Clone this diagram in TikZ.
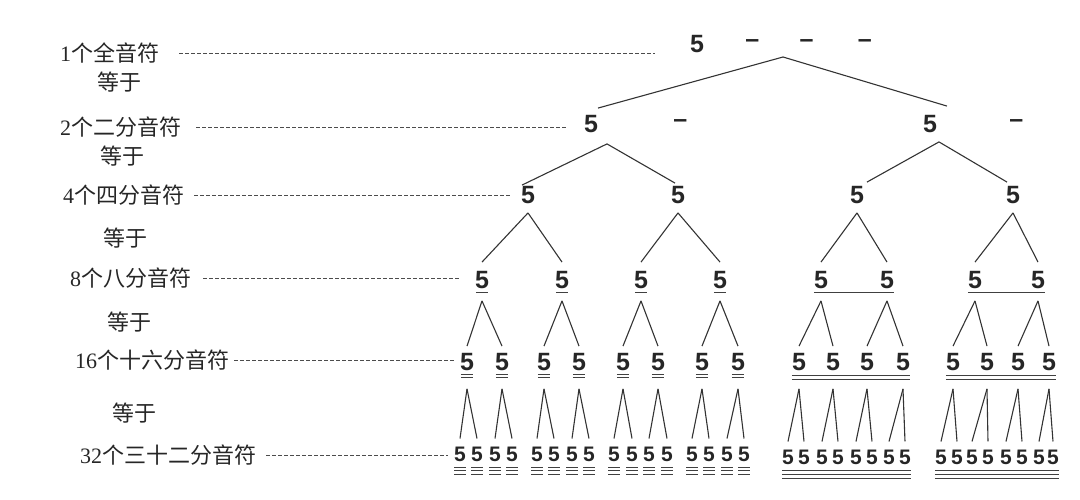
\documentclass[tikz,border=0pt]{standalone}
\usepackage{fontspec}
\setmainfont{Liberation Serif}
\setsansfont{Liberation Sans}
\newfontfamily\cjk{Noto Sans CJK SC}
\usetikzlibrary{positioning}
\tikzstyle{rowname} = [anchor=west, inner sep=0pt, text=black!85, font=\fontsize{22}{22}\selectfont]
\tikzstyle{jnote} = [inner sep=0pt, text=black!85, font=\sffamily\bfseries\fontsize{25}{25}\selectfont]
\tikzstyle{jsmall} = [inner sep=0pt, text=black!85, font=\sffamily\bfseries\fontsize{21}{21}\selectfont]
\tikzstyle{branch} = [draw=black!80, line width=1.1pt]
\tikzstyle{guide} = [draw=black!70, line width=0.7pt, dash pattern=on 3.5pt off 2.5pt]
\tikzstyle{beam} = [draw=black!75, line width=1.1pt]

\begin{document}
\begin{tikzpicture}[x=1pt, y=-1pt, node distance=41pt]
\useasboundingbox (0,0) rectangle (1080,500);
% row names
\node (l1) [rowname] at (60,53) {1{\cjk 个全音符}};
\node (eq1) [rowname] at (97,82) {\cjk 等于};
\node (l2) [rowname] at (60,127) {2{\cjk 个二分音符}};
\node (eq2) [rowname] at (100,156) {\cjk 等于};
\node (l3) [rowname] at (63,195) {4{\cjk 个四分音符}};
\node (eq3) [rowname] at (103,238) {\cjk 等于};
\node (l4) [rowname] at (70,278) {8{\cjk 个八分音符}};
\node (eq4) [rowname] at (107,322) {\cjk 等于};
\node (l5) [rowname] at (75,360) {16{\cjk 个十六分音符}};
\node (eq5) [rowname] at (112,413) {\cjk 等于};
\node (l6) [rowname] at (80,455) {32{\cjk 个三十二分音符}};
%-----------------------------------------------
\node (w) [jnote] at (697,44) {5};
\node (wd1) [jnote, right=of w] {–};
\node (wd2) [jnote, right=40pt of wd1] {–};
\node (wd3) [jnote, right=44pt of wd2] {–};
%-----------------------------------------------
\node (h1) [jnote] at (591,124) {5};
\node (h1d) [jnote, right=75pt of h1] {–};
\node (h2) [jnote] at (930,124) {5};
\node (h2d) [jnote, right=72pt of h2] {–};
%-----------------------------------------------
\node (q1) [jnote] at (528,195) {5};
\node (q2) [jnote] at (678,195) {5};
\node (q3) [jnote] at (857,195) {5};
\node (q4) [jnote] at (1013,195) {5};
%-----------------------------------------------
\foreach \x [count=\i] in {482,562,641,720,821,887,975,1038}
  \node (e\i) [jnote] at (\x,280) {5};
\foreach \x [count=\i] in {467,502,544,579,623,658,702,738,799,833,867,903,953,987,1018,1049}
  \node (s\i) [jnote] at (\x,362) {5};
\foreach \x [count=\i] in {460,477,495,512,537,554,572,589,614,632,649,667,692,709,727,744}
  \node (t\i) [jsmall] at (\x,454) {5};
\foreach \x [count=\i from 17] in {788,804,822,838,856,872,889,905,941,957,972,988,1006,1022,1039,1053}
  \node (t\i) [jsmall] at (\x,457) {5};
%-----------------------------------------------
% dashed guides
\draw [guide] ([xshift=20pt]l1.east) -- ([xshift=-35pt]w.west |- l1.east);
\draw [guide] ([xshift=15pt]l2.east) -- ([xshift=-16pt]h1.west |- l2.east);
\draw [guide] ([xshift=10pt]l3.east) -- ([xshift=-11pt]q1.west |- l3.east);
\draw [guide] ([xshift=12pt]l4.east) -- ([xshift=-15pt]e1.west |- l4.east);
\draw [guide] ([xshift=5pt]l5.east) -- ([xshift=-5pt]s1.west |- l5.east);
\draw [guide] ([xshift=10pt]l6.east) -- ([xshift=-6pt]t1.west |- l6.east);
%-----------------------------------------------
% tree
\coordinate (a1) at (783,57);
\coordinate (b1) at ([xshift=16pt,yshift=-11pt]h1.south);
\coordinate (b2) at ([xshift=9pt,yshift=-9pt]h2.south);
\draw [branch] (a1) -- ([xshift=7pt,yshift=7pt]h1.north);
\draw [branch] (a1) -- ([xshift=17pt,yshift=9pt]h2.north);
\draw [branch] (b1) -- ([xshift=-6pt,yshift=1pt]q1.north);
\draw [branch] (b1) -- ([xshift=-3pt,yshift=3pt]q2.north);
\draw [branch] (b2) -- ([xshift=10pt,yshift=4pt]q3.north);
\draw [branch] (b2) -- ([xshift=-6pt,yshift=4pt]q4.north);
\foreach \i [evaluate=\i as \j using int(2*\i-1), evaluate=\i as \k using int(2*\i)] in {1,...,4} {
  \coordinate (cq\i) at ([yshift=-9pt]q\i.south);
  \draw [branch] (cq\i) -- ([yshift=9pt]e\j.north);
  \draw [branch] (cq\i) -- ([yshift=9pt]e\k.north);
}
\foreach \i [evaluate=\i as \j using int(2*\i-1), evaluate=\i as \k using int(2*\i)] in {1,...,8} {
  \coordinate (ce\i) at ([yshift=-12pt]e\i.south);
  \draw [branch] (ce\i) -- ([yshift=7pt]s\j.north);
  \draw [branch] (ce\i) -- ([yshift=7pt]s\k.north);
}
\foreach \i [evaluate=\i as \j using int(2*\i-1), evaluate=\i as \k using int(2*\i)] in {1,...,16} {
  \coordinate (cs\i) at ([yshift=-18pt]s\i.south);
  \draw [branch] (cs\i) -- ([yshift=8pt]t\j.north);
  \draw [branch] (cs\i) -- ([yshift=8pt]t\k.north);
}
%-----------------------------------------------
% underlines and beams
\foreach \i in {1,...,4}
  \draw [beam, shorten <=1pt, shorten >=1pt] ([yshift=-3.5pt]e\i.south west) -- ([yshift=-3.5pt]e\i.south east);
\draw [beam] ([yshift=-3.5pt]e5.south west) -- ([yshift=-3.5pt]e6.south east);
\draw [beam] ([yshift=-3.5pt]e7.south west) -- ([yshift=-3.5pt]e8.south east);
\foreach \i in {1,...,8}
  \foreach \d in {3.5,7}
    \draw [beam, shorten <=1pt, shorten >=1pt] ([yshift=-\d pt]s\i.south west) -- ([yshift=-\d pt]s\i.south east);
\foreach \d in {5,9} {
  \draw [beam] ([yshift=-\d pt]s9.south west) -- ([yshift=-\d pt]s12.south east);
  \draw [beam] ([yshift=-\d pt]s13.south west) -- ([yshift=-\d pt]s16.south east);
}
\foreach \i in {1,...,16}
  \foreach \d in {5.5,9,12.5}
    \draw [beam, line width=0.9pt, shorten <=0.5pt, shorten >=0.5pt] ([yshift=-\d pt]t\i.south west) -- ([yshift=-\d pt]t\i.south east);
\foreach \d in {5.5,9.5,13.5} {
  \draw [beam, line width=0.9pt] ([yshift=-\d pt]t17.south west) -- ([yshift=-\d pt]t24.south east);
  \draw [beam, line width=0.9pt] ([yshift=-\d pt]t25.south west) -- ([yshift=-\d pt]t32.south east);
}
\end{tikzpicture}
\end{document}
